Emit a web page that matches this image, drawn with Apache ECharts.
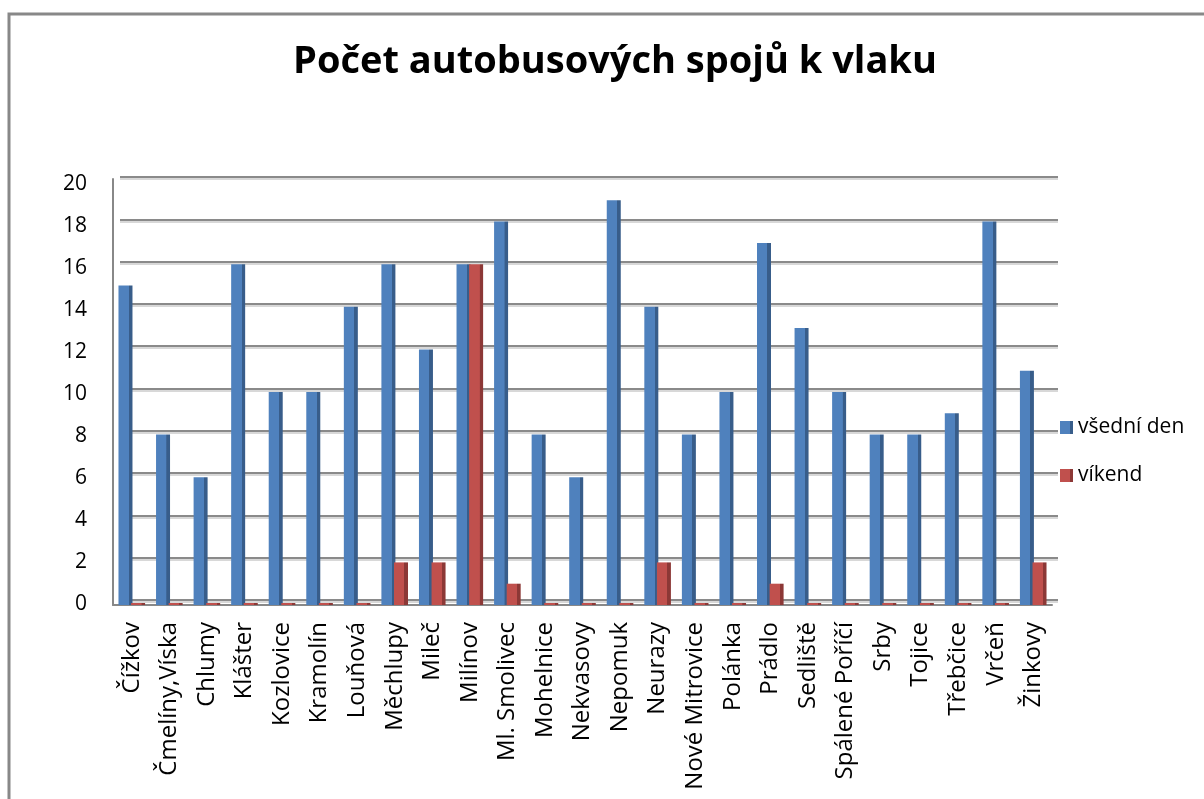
<!DOCTYPE html>
<html>
<head>
<meta charset="utf-8">
<script src="https://cdn.jsdelivr.net/npm/echarts@6/dist/echarts.min.js"></script>
<style>html,body{margin:0;padding:0;background:#fff;}#c{width:1204px;height:799px;}</style>
</head>
<body>
<div id="c"></div>
<script>
const categories = ["Čížkov","Čmelíny,Víska","Chlumy","Klášter","Kozlovice","Kramolín","Louňová","Měchlupy","Mileč","Milínov","Ml. Smolivec","Mohelnice","Nekvasovy","Nepomuk","Neurazy","Nové Mitrovice","Polánka","Prádlo","Sedliště","Spálené Poříčí","Srby","Tojice","Třebčice","Vrčeň","Žinkovy"];
const vsedniDen = [15,8,6,16,10,10,14,16,12,16,18,8,6,19,14,8,10,17,13,10,8,8,9,18,11];
const vikend = [0,0,0,0,0,0,0,2,2,16,1,0,0,0,2,0,0,1,0,0,0,0,0,0,2];
const seriesNames = ["všední den","víkend"];
const yTicks = {min:0, max:20, interval:2};

const font = "'Open Sans', 'Noto Sans', sans-serif";
function sideGrad(front, side){
  return {type:'linear', x:0, y:0, x2:1, y2:0, colorStops:[
    {offset:0, color:front},{offset:0.74, color:front},{offset:0.75, color:side},{offset:1, color:side}]};
}
const chart = echarts.init(document.getElementById('c'));
chart.setOption({
  animation:false,
  backgroundColor:'#fff',
  title:{text:'Počet autobusových spojů k vlaku', left:610, textAlign:'center', top:38,
    textStyle:{fontFamily:font, fontSize:38, fontWeight:'bold', color:'#000'}},
  legend:{orient:'vertical', left:1055, top:412, itemWidth:13, itemHeight:13, itemGap:27, icon:'rect',
    textStyle:{fontFamily:font, fontSize:21, color:'#000'}, data:seriesNames},
  graphic:[{type:'rect', shape:{x:9, y:14, width:1400, height:1000}, style:{fill:'none', stroke:'#888', lineWidth:3}, z:-10}],
  grid:[
    {left:113, right:152, top:179, bottom:194},
    {left:120, right:146, top:177, bottom:199},
    {left:113, right:152, top:184, bottom:195}
  ],
  xAxis:[
    {type:'category', gridIndex:0, data:categories,
      axisLine:{lineStyle:{color:'#888', width:2}}, axisTick:{show:false},
      axisLabel:{rotate:90, interval:0, margin:17, fontFamily:font, fontSize:24, color:'#000'}},
    {type:'value', gridIndex:1, min:0, max:1, show:false},
    {type:'value', gridIndex:2, min:0, max:1, show:false}
  ],
  yAxis:[
    {type:'value', gridIndex:0, min:yTicks.min, max:yTicks.max, interval:yTicks.interval,
      axisLine:{show:true, lineStyle:{color:'#888', width:2}}, axisTick:{show:false},
      axisLabel:{show:false}, splitLine:{show:false}},
    {type:'value', gridIndex:1, min:yTicks.min, max:yTicks.max, interval:yTicks.interval,
      axisLine:{show:false}, axisTick:{show:false}, axisLabel:{show:false},
      splitLine:{show:true, lineStyle:{color:'#8a8a8a', width:2, shadowColor:'#d8d8d8', shadowOffsetY:2, shadowBlur:0}}},
    {type:'value', gridIndex:2, min:yTicks.min, max:yTicks.max, interval:yTicks.interval,
      axisLine:{show:false}, axisTick:{show:false}, splitLine:{show:false},
      axisLabel:{margin:26, fontFamily:font, fontSize:21, color:'#000'}}
  ],
  series:[
    {name:seriesNames[0], type:'bar', xAxisIndex:0, yAxisIndex:0, data:vsedniDen, barWidth:14, barGap:'-10%',
      itemStyle:{color:sideGrad('#4F81BD','#385D8A')}, z:3},
    {name:seriesNames[1], type:'bar', xAxisIndex:0, yAxisIndex:0, data:vikend, barWidth:14, barMinHeight:2,
      itemStyle:{color:sideGrad('#C0504D','#8C3836')}, z:4}
  ]
});
</script>
</body>
</html>
